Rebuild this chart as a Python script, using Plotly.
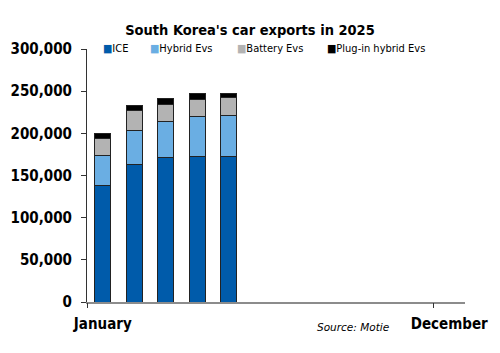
import plotly.graph_objects as go

months = ["January", "February", "March", "April", "May", "June", "July",
          "August", "September", "October", "November", "December"]
ice = [138500, 163500, 171500, 173000, 172000]
hybrid = [35500, 40000, 42000, 46500, 49500]
battery = [20000, 23500, 21000, 21000, 20500]
phev = [6000, 6500, 6500, 6500, 5500]

series = [
    ("ICE", ice, "#005BAA"),
    ("Hybrid Evs", hybrid, "#6AAEE3"),
    ("Battery Evs", battery, "#B3B3B3"),
    ("Plug-in hybrid Evs", phev, "#000000"),
]
y_ticks = [0, 50000, 100000, 150000, 200000, 250000, 300000]
x_labels = {0: "January", 11: "December"}

FONT = "DejaVu Sans Condensed, DejaVu Sans, sans-serif"
W, H = 500, 353
L, R, T, B = 87, 35, 49, 51
pw, ph = W - L - R, H - T - B


def px(x):
    return (x - L) / pw


def py(y):
    return (H - B - y) / ph


fig = go.Figure()
xs = list(range(len(ice)))
for name, vals, col in series:
    fig.add_trace(go.Bar(
        x=xs, y=vals, name=name, width=0.5,
        marker=dict(color=col, line=dict(color="#222222", width=1)),
        showlegend=False,
    ))

fig.update_layout(
    barmode="stack",
    width=W, height=H,
    margin=dict(l=L, r=R, t=T, b=B),
    plot_bgcolor="white", paper_bgcolor="white",
    font=dict(family=FONT, color="black"),
    title=dict(text="<b>South Korea's car exports in 2025</b>",
               x=0.5, xanchor="center", xref="container",
               y=1 - 30 / H, yanchor="middle", yref="container",
               font=dict(size=14.5, family=FONT, color="black")),
    xaxis=dict(range=[-0.5, 11.5], tickmode="array",
               tickvals=list(x_labels.keys()),
               ticktext=["<b>%s</b>" % v for v in x_labels.values()],
               ticks="", showgrid=False, zeroline=False,
               showline=True, linecolor="#8C8C8C", linewidth=2,
               ticklabelstandoff=7,
               tickfont=dict(size=15, family=FONT, color="black")),
    xaxis2=dict(range=[-0.5, 11.5], overlaying="x", tickmode="array",
                tickvals=[-0.5, 10.5], ticktext=["", ""],
                ticks="outside", ticklen=5, tickcolor="#333333", tickwidth=1,
                showgrid=False, zeroline=False, showline=False),
    yaxis=dict(range=[0, 300000], tickmode="array", tickvals=y_ticks,
               ticktext=["<b>%s</b>" % f"{v:,}" for v in y_ticks],
               ticks="outside", ticklen=5, tickcolor="#333333", tickwidth=1,
               showgrid=False, zeroline=False,
               showline=True, linecolor="#333333", linewidth=1,
               ticklabelstandoff=6,
               tickfont=dict(size=15, family=FONT, color="black")),
)
fig.add_trace(go.Scatter(x=[0], y=[0], xaxis="x2", mode="markers",
                         marker=dict(opacity=0), showlegend=False,
                         hoverinfo="skip"))

leg_x = [101, 148, 235, 325]
for (name, vals, col), lx in zip(series, leg_x):
    fig.add_annotation(
        x=px(lx), y=py(48), xref="paper", yref="paper", showarrow=False,
        text=f"<span style='color:{col}'>■</span>{name}",
        xanchor="left", yanchor="middle",
        font=dict(size=11, family=FONT, color="black"),
    )

fig.add_annotation(text="<i>Source: Motie</i>", x=px(391), y=py(327),
                   xref="paper", yref="paper", showarrow=False,
                   xanchor="right", yanchor="middle",
                   font=dict(size=10.5, family="DejaVu Sans, sans-serif",
                             color="black"))

fig.write_html("out.html")
